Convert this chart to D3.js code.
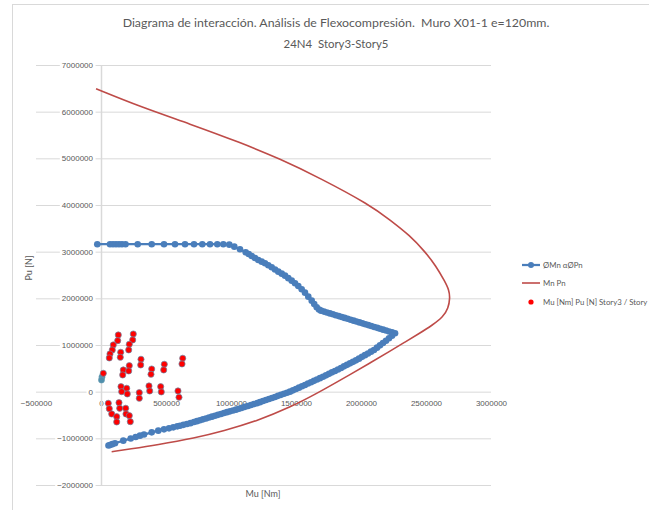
<!DOCTYPE html>
<html><head><meta charset="utf-8">
<script src="https://cdn.jsdelivr.net/npm/d3@7"></script>
<style>body{margin:0;background:#fff} svg{display:block} text{font-family:Lato,"Liberation Sans",sans-serif}</style>
</head><body><svg id="c" width="649" height="510"></svg>
<script>
const titleLines = ["Diagrama de interacción. Análisis de Flexocompresión.  Muro X01-1 e=120mm.", "24N4  Story3-Story5"];
const xTitle = "Mu [Nm]";
const yTitle = "Pu [N]";
const seriesNames = ["ØMn αØPn", "Mn Pn", "Mu [Nm] Pu [N] Story3 / Story"];
const xTicks = [-500000, 0, 500000, 1000000, 1500000, 2000000, 2500000, 3000000];
const yTicks = [-2000000, -1000000, 0, 1000000, 2000000, 3000000, 4000000, 5000000, 6000000, 7000000];

// design curve ØMn - ØPn
const phiMn = [-28500, 69200, 92300, 115400, 138500, 161500, 188500, 282300, 390000, 484600, 569200, 646200, 715400, 779200, 838500, 894600, 940800, 986900,
 1025400, 1069200, 1113000, 1136100, 1159200, 1184600, 1210000, 1236100, 1261500, 1286900, 1313000, 1338500, 1363800, 1390000, 1415400, 1440700, 1466900, 1492300, 1517700, 1543800, 1569200, 1594600, 1620700, 1640000, 1659200, 1676900, 1692300,
 1715000, 1738000, 1761000, 1784000, 1806000, 1829000, 1852000, 1874000, 1897000, 1920000, 1943000, 1965000, 1988000, 2011000, 2034000, 2056000, 2079000, 2102000, 2125000, 2147000, 2170000, 2193000, 2216000, 2239000, 2262000,
 2238500, 2215400, 2192300, 2169200, 2146200, 2123100, 2100000, 2076900, 2053800, 2030800, 2007700, 1984600, 1961500, 1938500, 1915400, 1892300, 1869200, 1846200, 1823100, 1800000,
 1776900, 1753800, 1730800, 1707700, 1684600, 1661500, 1638500, 1615400, 1592300, 1569200, 1546200, 1523100, 1500000, 1476900, 1453800, 1430800, 1407700, 1384600, 1361500, 1338500,
 1315400, 1292300, 1269200, 1246200, 1223100, 1200000, 1176900, 1153800, 1130800, 1107700, 1084600, 1061500, 1038500, 1015400, 992300, 969200, 946200, 923100, 900000, 876900,
 853800, 830800, 807700, 784600, 761500, 738500, 715400, 688500, 661500, 634600, 607700, 586900, 556200, 523100, 484600, 440800, 390000, 330800, 300000, 266900,
 228500, 171500, 107700, 86900, 69200, 57700];
const phiPn = [3160000, 3160000, 3160000, 3160000, 3160000, 3160000, 3160000, 3160000, 3160000, 3160000, 3160000, 3160000, 3160000, 3160000, 3160000, 3160000, 3160000, 3150000,
 3107000, 3051400, 2987100, 2948600, 2907900, 2865000, 2822100, 2785700, 2751400, 2708600, 2665700, 2618600, 2571400, 2528600, 2485700, 2432100, 2378600, 2322900, 2265000, 2194300, 2121400, 2035700, 1950000, 1879300, 1808600, 1761400, 1735700,
 1716000, 1697000, 1677000, 1658000, 1639000, 1619000, 1600000, 1581000, 1561000, 1542000, 1522000, 1503000, 1484000, 1464000, 1445000, 1426000, 1406000, 1387000, 1368000, 1348000, 1329000, 1310000, 1290000, 1271000, 1251000,
 1197900, 1144300, 1090700, 1041400, 992100, 942900, 893600, 857100, 818600, 782100, 745700, 707100, 670700, 638600, 606400, 574300, 542100, 507900, 475700, 443600,
 413600, 381400, 349300, 319300, 289300, 259300, 231400, 201400, 173600, 143600, 115700, 85700, 57900, 27900, 0, -23600, -45000, -68600, -90000, -113600,
 -135000, -156400, -180000, -201400, -225000, -246400, -265700, -287100, -306400, -325700, -347100, -366400, -385700, -402900, -422100, -439300, -458600, -477900, -497100, -516400,
 -535700, -555000, -574300, -593600, -612900, -632100, -651400, -675000, -692100, -711400, -730700, -743600, -765000, -786400, -807900, -835700, -872100, -919300, -942900, -970700,
 -1005000, -1050000, -1105700, -1125000, -1142100, -1152900];

// nominal curve Mn - Pn
const Mn = [-38000, 300000, 684600, 1069000, 1377000, 1685000, 2069000, 2223000, 2377000, 2492000, 2577000, 2646000, 2677000, 2685000,
 2671000, 2633000, 2546000, 2454000, 2338000, 2223000, 2069000, 1915000, 1800000, 1685000, 1454000, 1198000, 942000, 723000, 428000, 223000, 82000];
const Pn = [6490000, 6107000, 5736000, 5340000, 4989000, 4577000, 4001000, 3679000, 3345000, 3000000, 2694000, 2357000, 2179000, 2008000,
 1787000, 1607000, 1419000, 1258000, 1061000, 868000, 615000, 366000, 182000, 0, -339000, -628000, -842000, -992000, -1142000, -1228000, -1286000];

// demand points
const Mu = [133100, 128500, 248500, 243800, 94600, 86900, 69200, 63800, 151500, 148500, 217700, 213100, 17700, 307700, 305400, 171500, 166900, 217700, 213100, 390000, 384600, 486900, 482300, 628500, 623100, 153800, 159200, 197700, 202300, 294600, 294600, 369200, 374600, 459200, 463800, 592300, 600000, 56200, 63800, 82300, 138500, 143800, 120800, 120800, 190000, 192300, 217700, 225400];
const Pu = [1215000, 1093000, 1236000, 1108000, 1001000, 894000, 808000, 722000, 844000, 737000, 1016000, 894000, 394000, 694000, 572000, 465000, 358000, 557000, 444000, 486000, 373000, 587000, 465000, 716000, 594000, 107000, 0, 73000, -49000, -21000, -141000, 122000, 15000, 107000, -6000, 15000, -120000, -249000, -364000, -478000, -236000, -356000, -536000, -649000, -356000, -478000, -514000, -643000];
const MuExtra = [7700, 3800];
const PuExtra = [315000, 250000];

const svg = d3.select("#c");
const grey = "#595959", gridC = "#d9d9d9";
svg.append("rect").attr("x",12.5).attr("y",4.5).attr("width",700).attr("height",600).attr("fill","#fff").attr("stroke",gridC);

const x = d3.scaleLinear().domain([-500000, 3000000]).range([36, 491]);
const y = d3.scaleLinear().domain([-2000000, 7000000]).range([485, 65]);

// gridlines
svg.append("g").attr("transform","translate(36,0)")
  .call(d3.axisLeft(y).tickValues(yTicks).tickSize(-455).tickFormat(""))
  .call(g=>{g.select(".domain").remove(); g.selectAll("line").attr("stroke",gridC).attr("stroke-width",1);});

// x axis at y=0
const gx = svg.append("g").attr("transform",`translate(0,${y(0)})`)
  .call(d3.axisBottom(x).tickValues(xTicks).tickSize(0).tickPadding(9).tickFormat(d3.format("d")));
gx.select(".domain").remove();
gx.selectAll("text").attr("fill",grey).style("font-size","8px").style("font-family","'Liberation Sans',sans-serif");

// y axis at x=0
const gy = svg.append("g").attr("transform",`translate(${x(0)},0)`)
  .call(d3.axisLeft(y).tickValues(yTicks).tickSize(0).tickPadding(8).tickFormat(d3.format("d")));
gy.select(".domain").attr("stroke",gridC).attr("stroke-width",1.5);
gy.selectAll("text").attr("fill",grey).style("font-size","8px").style("font-family","'Liberation Sans',sans-serif");
gy.selectAll(".tick").each(function(){
  const t = d3.select(this).select("text");
  const b = t.node().getBBox();
  d3.select(this).insert("rect","text").attr("x",b.x-2).attr("y",b.y).attr("width",b.width+4).attr("height",b.height).attr("fill","#fff");
});

// nominal curve
svg.append("path").datum(d3.zip(Mn,Pn))
  .attr("fill","none").attr("stroke","#be4b48").attr("stroke-width",1.6)
  .attr("d", d3.line().x(d=>x(d[0])).y(d=>y(d[1])).curve(d3.curveBasis));

// design curve
const blue = "#4a7ebb";
const design = d3.zip(phiMn, phiPn);
svg.append("path").datum(design)
  .attr("fill","none").attr("stroke",blue).attr("stroke-width",2.25)
  .attr("d", d3.line().x(d=>x(d[0])).y(d=>y(d[1])));
svg.append("g").selectAll("circle").data(design).join("circle")
  .attr("cx",d=>x(d[0])).attr("cy",d=>y(d[1])).attr("r",3.3).attr("fill",blue);

// demand points
svg.append("g").selectAll("circle").data(d3.zip(MuExtra,PuExtra)).join("circle")
  .attr("cx",d=>x(d[0])).attr("cy",d=>y(d[1])).attr("r",3.1).attr("fill","#4f8fac").attr("stroke","#6f9fb5").attr("stroke-width",0.6);
svg.append("g").selectAll("circle").data(d3.zip(Mu,Pu)).join("circle")
  .attr("cx",d=>x(d[0])).attr("cy",d=>y(d[1])).attr("r",3.1).attr("fill","#ff0000").attr("stroke","#6a8aa8").attr("stroke-width",0.7);

// title
const tw = [427, 105], ty = [27, 48];
titleLines.forEach((s,i)=>{
  const t = svg.append("text").attr("x",336).attr("y",ty[i]).attr("text-anchor","middle")
    .attr("fill",grey).style("white-space","pre").style("font-size","14px").text(s);
  const w = t.node().getComputedTextLength();
  t.style("font-size",(14*tw[i]/w).toFixed(2)+"px");
});

// axis titles
svg.append("text").attr("transform","translate(32,268) rotate(-90)").attr("text-anchor","middle")
  .attr("fill",grey).style("font-size","9px").text(yTitle);
svg.append("text").attr("x",263).attr("y",497).attr("text-anchor","middle")
  .attr("fill",grey).style("font-size","9px").text(xTitle);

// legend
const lg = svg.append("g").style("font-size","7.8px");
lg.append("line").attr("x1",522).attr("x2",540).attr("y1",265).attr("y2",265).attr("stroke",blue).attr("stroke-width",2.25);
lg.append("circle").attr("cx",531).attr("cy",265).attr("r",3).attr("fill",blue);
lg.append("line").attr("x1",522).attr("x2",540).attr("y1",283).attr("y2",283).attr("stroke","#be4b48").attr("stroke-width",1.6);
lg.append("circle").attr("cx",531).attr("cy",302).attr("r",2.6).attr("fill","#ff0000");
[265,283,302].forEach((yy,i)=>{
  lg.append("text").attr("x",543).attr("y",yy).attr("dy","0.35em").attr("fill",grey).text(seriesNames[i]);
});
</script></body></html>
